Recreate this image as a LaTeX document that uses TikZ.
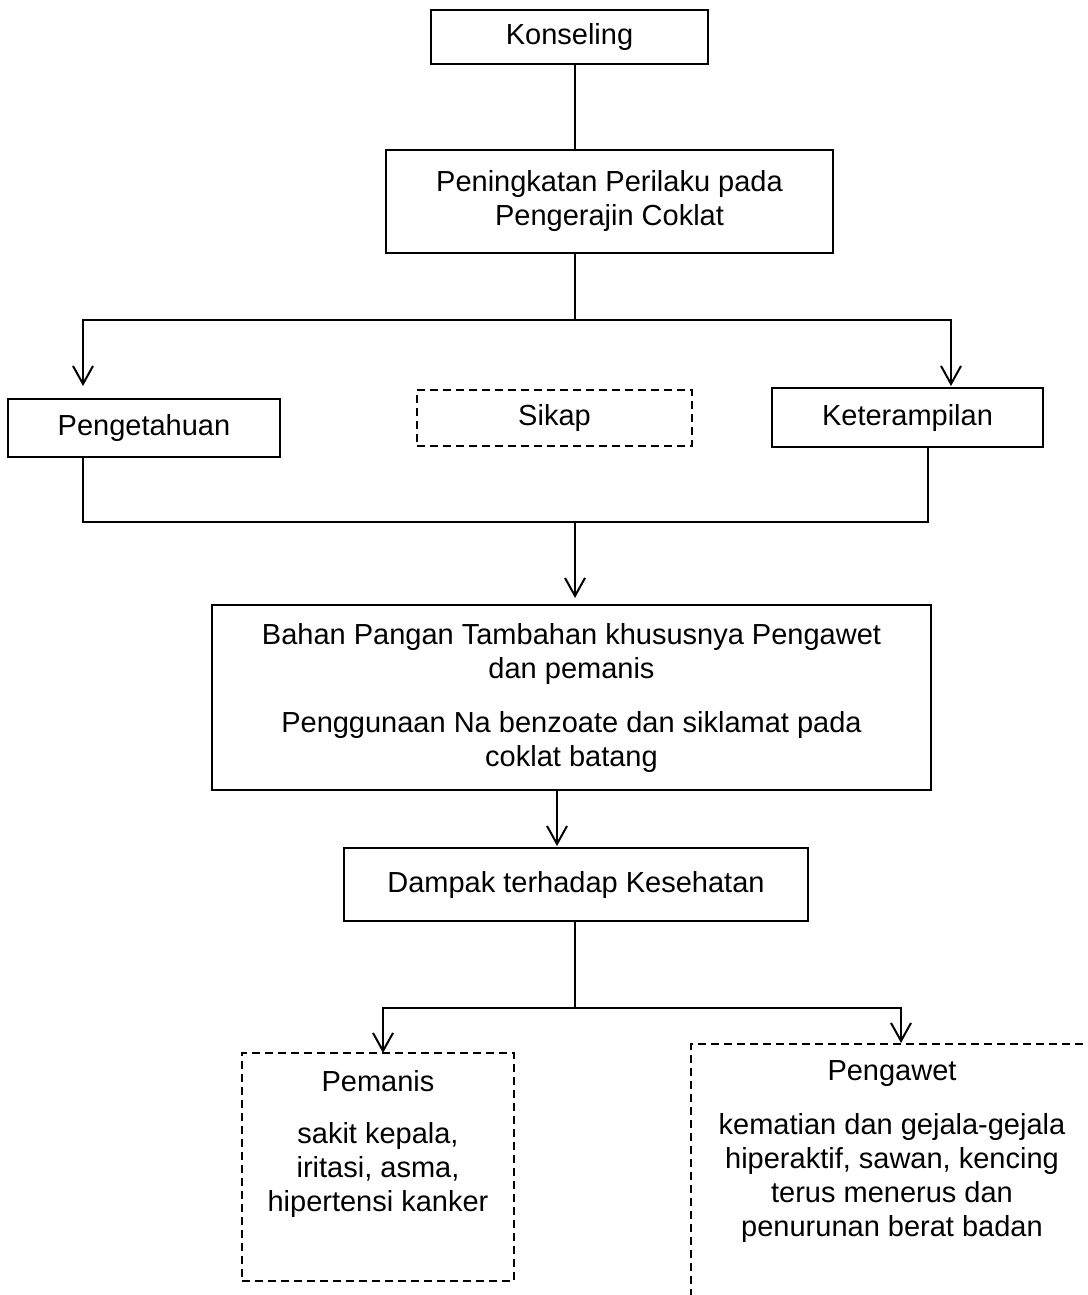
\documentclass[tikz,border=0pt]{standalone}
\usepackage{fontspec}
\setmainfont{Liberation Sans}
\usetikzlibrary{arrows.meta}

\tikzset{
    box/.style={draw, line width=0.75pt, align=center, inner sep=0pt},
    dashbox/.style={box, dash pattern=on 4pt off 2.5pt},
    link/.style={line width=1pt},
    arrow/.style={link, -{Straight Barb[length=9pt, width=10pt, line width=1pt]}}
}

\begin{document}
\begin{tikzpicture}[x=0.5pt, y=-0.5pt,
    every node/.style={font=\fontsize{14.5pt}{17pt}\selectfont}]
    \clip (0,0) rectangle (1087,1295);

    % Boxes
    \node[box, minimum width=138.5pt, minimum height=27pt] (konseling) at (569.5,37) {Konseling};
    \node[box, minimum width=223.5pt, minimum height=51.5pt] (peningkatan) at (609.5,201.5)
        {Peningkatan Perilaku pada\\Pengerajin Coklat};
    \node[box, minimum width=136pt, minimum height=29pt] (pengetahuan) at (144,428) {Pengetahuan};
    \node[dashbox, minimum width=137.5pt, minimum height=28pt] (sikap) at (554.5,418) {Sikap};
    \node[box, minimum width=135.5pt, minimum height=29.5pt] (keterampilan) at (907.5,417.5) {Keterampilan};
    \node[box, minimum width=359.5pt, minimum height=92.5pt] (bahan) at (571.5,697.5)
        {Bahan Pangan Tambahan khususnya Pengawet\\dan pemanis\\[10pt]
         Penggunaan Na benzoate dan siklamat pada\\coklat batang};
    \node[box, minimum width=232pt, minimum height=36.5pt] (dampak) at (576,884.5) {Dampak terhadap Kesehatan};

    % Bottom boxes, text set apart from the frame
    \node[dashbox, minimum width=136pt, minimum height=114pt] (pemanis) at (378,1167) {};
    \node[anchor=north, align=center, inner sep=0pt] (pemanistext) at (378,1070)
        {Pemanis\\[9pt]sakit kepala,\\iritasi, asma,\\hipertensi kanker};
    \node[dashbox, minimum width=204.5pt, minimum height=138pt] (pengawet) at (895.5,1182) {};
    \node[anchor=north, align=center, inner sep=0pt] (pengawettext) at (892,1060)
        {Pengawet\\[10pt]kematian dan gejala-gejala\\hiperaktif, sawan, kencing\\terus menerus dan\\penurunan berat badan};

    % Junctions and arrow ends
    \coordinate (split) at (575,320);
    \coordinate (tipA) at (83,386);
    \coordinate (tipK) at (951,386);
    \coordinate (legA) at (83,522);
    \coordinate (join) at (575,522);
    \coordinate (legK) at (928,522);
    \coordinate (tipB) at (575,598);
    \coordinate (tipD) at (557,846);
    \coordinate (fork) at (575,1008);
    \coordinate (tipP) at (383,1053);
    \coordinate (tipW) at (901,1043);

    % Edges
    \draw[link] (konseling.south -| split) -- (peningkatan.north -| split);
    \draw[link] (peningkatan.south -| split) -- (split);
    \draw[arrow] (split) -| (tipA);
    \draw[arrow] (split) -| (tipK);
    \draw[link] (pengetahuan.south -| legA) -- (legA) -- (legK) -- (keterampilan.south -| legK);
    \draw[arrow] (join) -- (tipB);
    \draw[arrow] (bahan.south -| tipD) -- (tipD);
    \draw[link] (dampak.south -| fork) -- (fork);
    \draw[arrow] (fork) -| (tipP);
    \draw[arrow] (fork) -| (tipW);
\end{tikzpicture}
\end{document}
